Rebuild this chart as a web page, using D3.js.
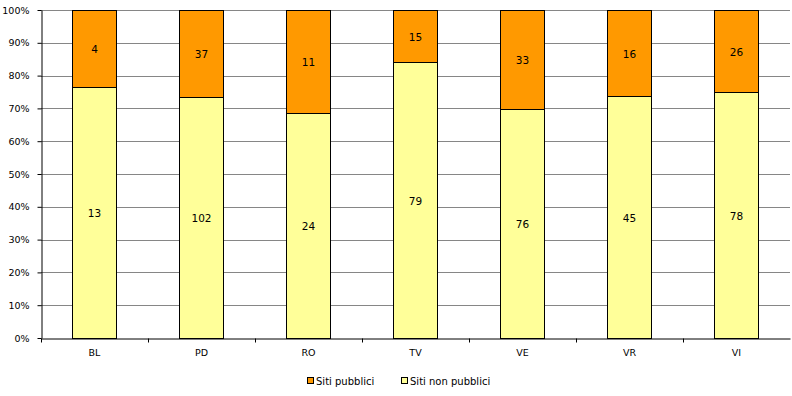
<!DOCTYPE html>
<html>
<head>
<meta charset="utf-8">
<script src="https://cdn.jsdelivr.net/npm/d3@7"></script>
<style>
  body { margin: 0; background: #fff; }
  svg { display: block; font-family: "DejaVu Sans", Verdana, sans-serif; }
</style>
</head>
<body>
<svg id="chart" width="792" height="396"></svg>
<script>
// Province codes on the x axis
const provinces = ['BL', 'PD', 'RO', 'TV', 'VE', 'VR', 'VI'];
// Counts per province
const publicSites = [4, 37, 11, 15, 33, 16, 26];
const nonPublicSites = [13, 102, 24, 79, 76, 45, 78];
// Y tick values (share)
const yTicks = [0, 0.1, 0.2, 0.3, 0.4, 0.5, 0.6, 0.7, 0.8, 0.9, 1];

const seriesNames = ['Siti pubblici', 'Siti non pubblici'];
const seriesColors = ['#FF9900', '#FFFF99'];

const svg = d3.select('#chart');
const margin = { left: 41, right: 2, top: 10, bottom: 58 };
const width = 792, height = 396;

const x = d3.scaleBand()
    .domain(provinces)
    .range([margin.left, width - margin.right]);
const y = d3.scaleLinear()
    .domain([0, 1])
    .range([height - margin.bottom, margin.top]);

// rows: share of each series, non public at bottom
const rows = provinces.map((p, i) => {
    const tot = publicSites[i] + nonPublicSites[i];
    return { p: p, pub: publicSites[i], non: nonPublicSites[i], share: nonPublicSites[i] / tot };
});

// Gridlines
svg.append('g')
    .selectAll('line')
    .data(yTicks.slice(1))
    .enter().append('line')
        .attr('x1', margin.left)
        .attr('x2', width - margin.right)
        .attr('y1', d => Math.round(y(d)) + 0.5)
        .attr('y2', d => Math.round(y(d)) + 0.5)
        .attr('stroke', '#868686')
        .attr('stroke-width', 1);

// Bars
const barW = 44;
const bars = svg.append('g');
rows.forEach(r => {
    const bx = Math.round(x(r.p) + x.bandwidth() / 2 - barW / 2) - 0.5;
    const yMid = Math.round(y(r.share)) + 0.5;
    const yTop = Math.round(y(1)) + 0.5;
    const yBot = Math.round(y(0)) + 0.5;
    bars.append('rect')
        .attr('x', bx).attr('width', barW)
        .attr('y', yMid).attr('height', yBot - yMid)
        .attr('fill', seriesColors[1]).attr('stroke', '#000');
    bars.append('rect')
        .attr('x', bx).attr('width', barW)
        .attr('y', yTop).attr('height', yMid - yTop)
        .attr('fill', seriesColors[0]).attr('stroke', '#000');
    bars.append('text')
        .attr('x', bx + barW / 2)
        .attr('y', (yMid + yBot) / 2 + 4)
        .attr('text-anchor', 'middle')
        .attr('font-size', 10.5)
        .text(r.non);
    bars.append('text')
        .attr('x', bx + barW / 2)
        .attr('y', (yTop + yMid) / 2 + 4)
        .attr('text-anchor', 'middle')
        .attr('font-size', 10.5)
        .text(r.pub);
});

// Y axis
const yAxis = svg.append('g')
    .attr('transform', 'translate(' + (margin.left + 0.5) + ',0)')
    .call(d3.axisLeft(y).tickValues(yTicks).tickFormat(d3.format('.0%')).tickSize(4).tickSizeOuter(0));
yAxis.selectAll('path, line').attr('stroke', '#000');
yAxis.selectAll('text').attr('font-size', 9.5).attr('font-family', 'DejaVu Sans').attr('fill', '#000').attr('dx', -5);

// X axis
const xAxis = svg.append('g')
    .attr('transform', 'translate(0,' + (Math.round(y(0)) + 0.5) + ')')
    .call(d3.axisBottom(x).tickSize(0).tickSizeOuter(0));
xAxis.select('path').attr('stroke', '#000');
xAxis.selectAll('text').attr('font-size', 9.5).attr('font-family', 'DejaVu Sans').attr('fill', '#000').attr('dy', '1.5em');
// band boundary ticks
xAxis.append('g')
    .selectAll('line')
    .data(provinces)
    .enter().append('line')
        .attr('x1', d => Math.round(x(d)) + 0.5)
        .attr('x2', d => Math.round(x(d)) + 0.5)
        .attr('y1', 0).attr('y2', 4)
        .attr('stroke', '#000');

// Legend
const legendX = [307, 401];
const legend = svg.append('g');
seriesNames.forEach((name, i) => {
    legend.append('rect')
        .attr('x', legendX[i] + 0.5).attr('y', 377.5)
        .attr('width', 6).attr('height', 6)
        .attr('fill', seriesColors[i]).attr('stroke', '#000');
    legend.append('text')
        .attr('x', legendX[i] + 9).attr('y', 384.5)
        .attr('font-size', 10)
        .text(name);
});
</script>
</body>
</html>
